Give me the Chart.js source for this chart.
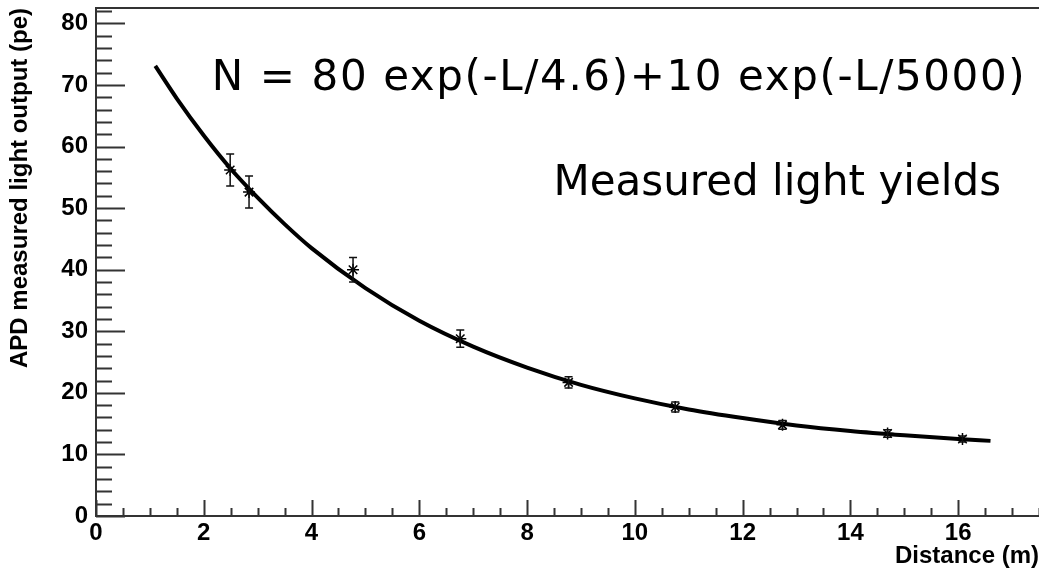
<!DOCTYPE html>
<html lang="en">
    <head>
        <meta charset="UTF-8">
        <title>APD light output vs distance</title>
        <script src="https://cdn.jsdelivr.net/npm/chart.js"></script>
        <style>
            body {
                margin: 0;
                background: white;
            }
            #box {
                width: 1039px;
                height: 570px;
                position: relative;
            }
        </style>
    </head>
    <body>
        <div id="box"><canvas id="chart"></canvas></div>
        <script>
            // measured points
            const distances = [2.49, 2.84, 4.77, 6.76, 8.77, 10.75, 12.74, 14.69, 16.08];
            const lightYields = [56.2, 52.6, 40.0, 28.8, 21.7, 17.7, 14.8, 13.4, 12.5];
            const yieldErrors = [2.6, 2.6, 2.0, 1.4, 0.9, 0.8, 0.7, 0.6, 0.5];

            // fitted curve
            const curveX = [1.1, 1.5, 2, 2.5, 3, 3.5, 4, 5, 6, 7, 8, 9, 10, 11, 12, 13, 14, 15, 16, 16.6];
            const curveY = [73.1, 67.8, 61.8, 56.4, 51.7, 47.4, 43.5, 37.0, 31.7, 27.5, 24.1, 21.3, 19.1, 17.3, 15.9, 14.7, 13.8, 13.1, 12.5, 12.2];

            const xTicks = [0, 2, 4, 6, 8, 10, 12, 14, 16];
            const yTicks = [0, 10, 20, 30, 40, 50, 60, 70, 80];

            const fitText = 'N = 80 exp(-L/4.6)+10 exp(-L/5000)';
            const legendText = 'Measured light yields';

            const tickFont = { family: 'Liberation Sans', size: 24, weight: 'bold' };
            const titleFont = { family: 'Liberation Sans', size: 24, weight: 'bold' };

            // no extra room around the frame, the frame fills the page like in ROOT
            function noPad(s) {
                s.paddingTop = 0;
                s.paddingBottom = 0;
                s.paddingLeft = 0;
                s.paddingRight = 0;
            }

            // ROOT style frame: ticks inside, top border, error bars, text
            const rootFrame = {
                id: 'rootFrame',
                afterDatasetsDraw(chart) {
                    const ctx = chart.ctx;
                    const xs = chart.scales.x;
                    const ys = chart.scales.y;

                    // error bars
                    ctx.save();
                    ctx.strokeStyle = '#111';
                    ctx.lineWidth = 1.5;
                    for (let i = 0; i < distances.length; i++) {
                        const px = xs.getPixelForValue(distances[i]);
                        const top = ys.getPixelForValue(lightYields[i] + yieldErrors[i]);
                        const bot = ys.getPixelForValue(lightYields[i] - yieldErrors[i]);
                        ctx.beginPath();
                        ctx.moveTo(px, top);
                        ctx.lineTo(px, bot);
                        ctx.moveTo(px - 4, top);
                        ctx.lineTo(px + 4, top);
                        ctx.moveTo(px - 4, bot);
                        ctx.lineTo(px + 4, bot);
                        ctx.stroke();
                    }
                    ctx.restore();
                },
                afterDraw(chart) {
                    const ctx = chart.ctx;
                    const xs = chart.scales.x;
                    const ys = chart.scales.y;
                    const area = chart.chartArea;

                    ctx.save();
                    ctx.strokeStyle = '#333';
                    ctx.lineWidth = 2;

                    // top border
                    ctx.beginPath();
                    ctx.moveTo(area.left, area.top);
                    ctx.lineTo(area.right, area.top);
                    ctx.stroke();

                    // x ticks, pointing up
                    ctx.beginPath();
                    for (let v = 0; v <= xs.max + 1e-6; v += 0.5) {
                        const px = Math.round(xs.getPixelForValue(v)) + 0.5;
                        const len = (v % 2 === 0) ? 16 : 8;
                        ctx.moveTo(px, area.bottom);
                        ctx.lineTo(px, area.bottom - len);
                    }
                    // y ticks, pointing right
                    for (let v = 0; v <= ys.max + 1e-6; v += 2) {
                        const py = Math.round(ys.getPixelForValue(v)) + 0.5;
                        const len = (v % 10 === 0) ? 29 : 16;
                        ctx.moveTo(area.left, py);
                        ctx.lineTo(area.left + len, py);
                    }
                    ctx.stroke();

                    // text on the plot
                    ctx.fillStyle = '#000';
                    ctx.font = '42px "DejaVu Sans"';
                    ctx.textAlign = 'left';
                    ctx.textBaseline = 'alphabetic';
                    ctx.letterSpacing = '1.6px';
                    ctx.fillText(fitText, xs.getPixelForValue(2.15), ys.getPixelForValue(69.2));
                    ctx.letterSpacing = '0px';
                    ctx.fillText(legendText, xs.getPixelForValue(8.49), ys.getPixelForValue(52.1));
                    ctx.restore();
                }
            };

            new Chart(document.getElementById('chart'), {
                type: 'scatter',
                data: {
                    datasets: [
                        {
                            label: 'points',
                            data: distances.map((d, i) => ({ x: d, y: lightYields[i] })),
                            pointStyle: 'star',
                            pointRadius: 6,
                            pointBorderWidth: 1.5,
                            borderColor: '#000',
                            backgroundColor: '#000',
                            order: 0
                        },
                        {
                            label: 'fit',
                            data: curveX.map((d, i) => ({ x: d, y: curveY[i] })),
                            showLine: true,
                            pointRadius: 0,
                            borderColor: '#000',
                            borderWidth: 4,
                            cubicInterpolationMode: 'monotone',
                            order: 1
                        }
                    ]
                },
                options: {
                    responsive: true,
                    maintainAspectRatio: false,
                    animation: false,
                    layout: { autoPadding: false, padding: { top: 8, right: 0, left: 0, bottom: 0 } },
                    plugins: {
                        legend: { display: false },
                        tooltip: { enabled: false }
                    },
                    scales: {
                        x: {
                            type: 'linear',
                            min: 0,
                            max: 17.5,
                            afterFit: s => { s.height = 54; noPad(s); },
                            afterBuildTicks: s => { s.ticks = xTicks.map(v => ({ value: v })); },
                            ticks: {
                                font: tickFont,
                                color: '#000',
                                padding: 3,
                                maxRotation: 0
                            },
                            grid: { display: false, drawTicks: false },
                            border: { display: true, color: '#333', width: 2 },
                            title: {
                                display: true,
                                text: 'Distance (m)',
                                align: 'end',
                                color: '#000',
                                font: titleFont,
                                padding: { top: 0, bottom: -1 }
                            }
                        },
                        y: {
                            type: 'linear',
                            min: 0,
                            max: 82.5,
                            afterFit: s => { s.width = 96; noPad(s); },
                            afterBuildTicks: s => { s.ticks = yTicks.map(v => ({ value: v })); },
                            ticks: {
                                font: tickFont,
                                color: '#000',
                                padding: 8
                            },
                            grid: { display: false, drawTicks: false },
                            border: { display: true, color: '#333', width: 2 },
                            title: {
                                display: true,
                                text: 'APD measured light output (pe)',
                                align: 'end',
                                color: '#000',
                                font: titleFont,
                                padding: { top: 6, bottom: 0 }
                            }
                        }
                    }
                },
                plugins: [rootFrame]
            });
        </script>
    </body>
</html>
